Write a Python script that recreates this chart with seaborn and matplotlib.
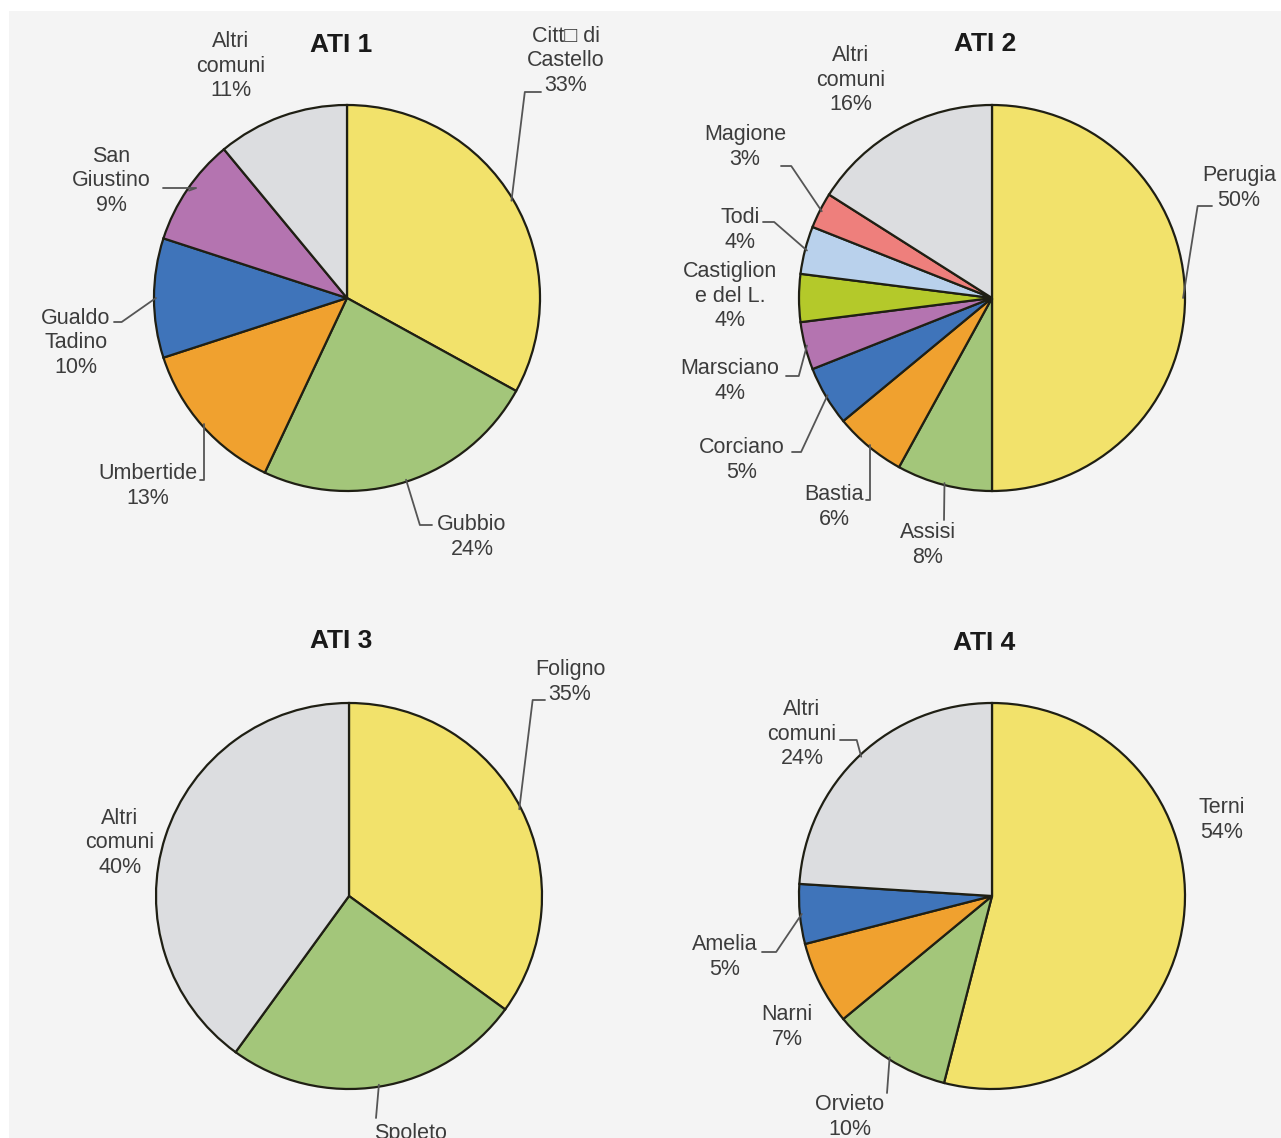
import numpy as np
import matplotlib.pyplot as plt
import seaborn as sns
from matplotlib.patches import Rectangle

sns.set_theme(style="white")
plt.rcParams['font.family'] = ['Liberation Sans', 'DejaVu Sans']

# dati (percentuali per ATI)
ati1_labels = ["Citt□ di\nCastello", "Gubbio", "Umbertide", "Gualdo\nTadino", "San\nGiustino", "Altri\ncomuni"]
ati1_values = [33, 24, 13, 10, 9, 11]

ati2_labels = ["Perugia", "Assisi", "Bastia", "Corciano", "Marsciano",
               "Castiglion\ne del L.", "Todi", "Magione", "Altri\ncomuni"]
ati2_values = [50, 8, 6, 5, 4, 4, 4, 3, 16]

ati3_labels = ["Foligno", "Spoleto", "Altri\ncomuni"]
ati3_values = [35, 25, 40]

ati4_labels = ["Terni", "Orvieto", "Narni", "Amelia", "Altri\ncomuni"]
ati4_values = [54, 10, 7, 5, 24]

titles = ["ATI 1", "ATI 2", "ATI 3", "ATI 4"]

# colori
base = sns.color_palette(["#f2e26b", "#a3c67a", "#f0a12f", "#3f74ba", "#b474b0",
                          "#b4c92a", "#b9d1ec", "#ee7f7c"])
gray = "#dcdde0"

W, H = 1281, 1138
R = 193.0

fig = plt.figure(figsize=(W / 100, H / 100), dpi=100)
fig.patch.set_facecolor("white")
fig.add_artist(Rectangle((9 / W, 0), 1, 1 - 11 / H, transform=fig.transFigure,
                         facecolor="#f4f4f4", edgecolor="none", zorder=-10))

# layout: centro torta (px), box asse (px), titolo (px), etichette
# etichetta: (x, y) testo in px, leader: None | ("elbow", stub_x, stub_y, angleB) | ("line", sx, sy)
layout = [
    dict(c=(347, 298), box=(0, 0, 640, 569), title=(341, 45),
         lab=[((566, 61), ("elbow", 541, 92, 83)),
              ((472, 537), ("elbow", 432, 525, -73)),
              ((148, 486), ("elbow", 200, 480, 90)),
              ((76, 343), ("elbow", 114, 322, 35)),
              ((111, 181), ("elbow", 163, 188, 20)),
              ((231, 66), None)]),
    dict(c=(992, 298), box=(640, 0, 1281, 569), title=(985, 44),
         lab=[((1239, 188), ("elbow", 1212, 206, 81)),
              ((928, 545), ("line", 944, 520)),
              ((834, 507), ("elbow", 866, 500, 90)),
              ((742, 460), ("elbow", 792, 452, 65)),
              ((730, 381), ("elbow", 786, 376, 75)),
              ((730, 296), None),
              ((740, 230), ("elbow", 763, 222, -41)),
              ((745, 147), ("elbow", 781, 166, -56)),
              ((851, 80), None)]),
    dict(c=(349, 896), box=(0, 569, 640, 1138), title=(341, 641),
         lab=[((570, 682), ("elbow", 545, 700, 83)),
              ((411, 1146), ("line", 376, 1118)),
              ((120, 843), None)]),
    dict(c=(992, 896), box=(640, 569, 1281, 1138), title=(984, 643),
         lab=[((1222, 820), None),
              ((850, 1117), ("line", 887, 1093)),
              ((787, 1027), None),
              ((725, 957), ("elbow", 762, 952, 56)),
              ((802, 734), ("elbow", 840, 740, -75))]),
]

all_labels = [ati1_labels, ati2_labels, ati3_labels, ati4_labels]
all_values = [ati1_values, ati2_values, ati3_values, ati4_values]

for k in range(4):
    L = layout[k]
    cx, cy = L["c"]
    x0, y0, x1, y1 = L["box"]
    ax = fig.add_axes([x0 / W, 1 - y1 / H, (x1 - x0) / W, (y1 - y0) / H])
    ax.set_facecolor("none")

    def p2d(x, y):
        return ((x - cx) / R, (cy - y) / R)

    vals = all_values[k]
    cols = list(base[:len(vals) - 1]) + [gray]
    wedges, _ = ax.pie(vals, colors=cols, startangle=90, counterclock=False, radius=1,
                       wedgeprops=dict(edgecolor="#1f1f14", linewidth=1.6))
    ax.set_xlim((x0 - cx) / R, (x1 - cx) / R)
    ax.set_ylim((cy - y1) / R, (cy - y0) / R)
    ax.set_aspect("auto")
    ax.axis("off")

    tx, ty = p2d(*L["title"])
    ax.text(tx, ty, titles[k], ha="center", va="center", fontsize=19,
            fontweight="bold", color="#1a1a1a")

    for w, name, v, (tpos, lead) in zip(wedges, all_labels[k], vals, L["lab"]):
        x, y = p2d(*tpos)
        ax.text(x, y, f"{name}\n{v}%", ha="center", va="center", fontsize=15.5,
                color="#3c3c3c", linespacing=1.2, multialignment="center",
                family=['Liberation Sans', 'DejaVu Sans'])
        if lead is None:
            continue
        mid = np.deg2rad((w.theta1 + w.theta2) / 2)
        rim = (0.99 * np.cos(mid), 0.99 * np.sin(mid))
        if lead[0] == "elbow":
            sx, sy = p2d(lead[1], lead[2])
            cs = f"angle,angleA=0,angleB={lead[3]},rad=0"
        else:
            sx, sy = p2d(lead[1], lead[2])
            cs = "arc3"
        ax.annotate("", xy=rim, xytext=(sx, sy),
                    arrowprops=dict(arrowstyle="-", color="#555555", lw=1.3,
                                    shrinkA=0, shrinkB=0, connectionstyle=cs))

fig.savefig("out.png", dpi=100)
